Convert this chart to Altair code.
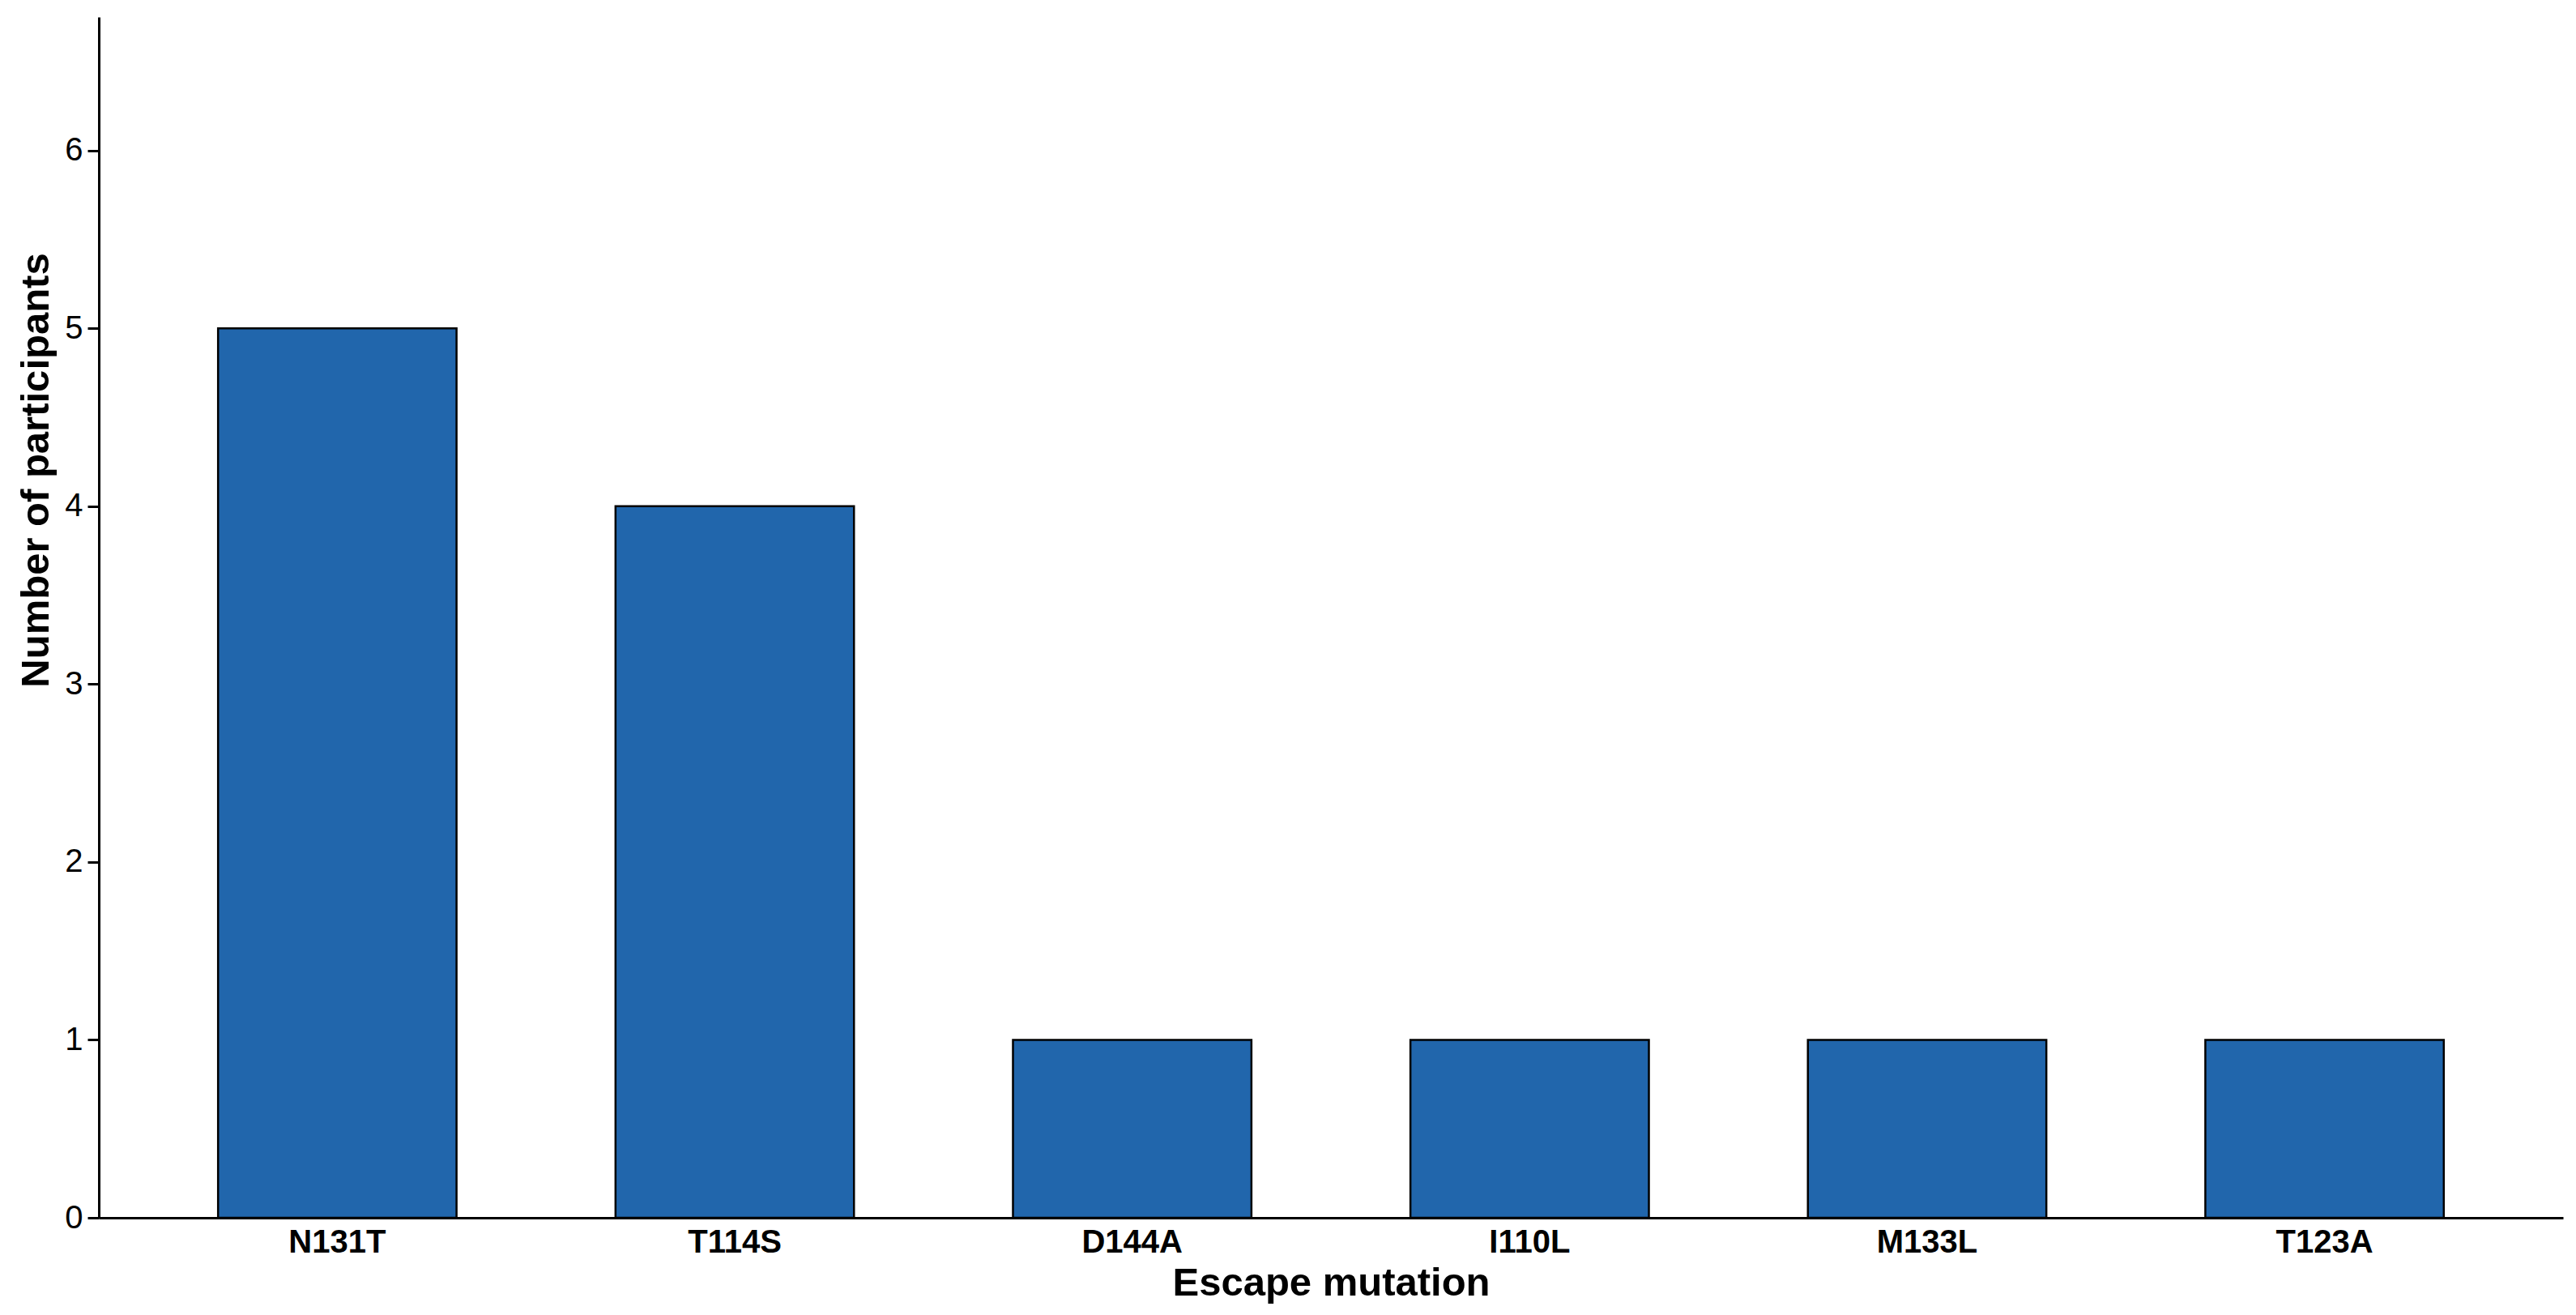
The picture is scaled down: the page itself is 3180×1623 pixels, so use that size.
import altair as alt
import pandas as pd

mutations = ["N131T", "T114S", "D144A", "I110L", "M133L", "T123A"]
participants = [5, 4, 1, 1, 1, 1]
y_ticks = [0, 1, 2, 3, 4, 5, 6]

df = pd.DataFrame({"mutation": mutations, "participants": participants})

chart = alt.Chart(df).mark_bar(
    color="#2166AC", stroke="black", strokeWidth=2.5
).encode(
    x=alt.X(
        "mutation:N", sort=mutations, title="Escape mutation",
        scale=alt.Scale(paddingInner=0.4, paddingOuter=0.3),
        axis=alt.Axis(
            labelAngle=0, ticks=False, labelFontWeight="bold", labelFontSize=40,
            labelPadding=10, labelColor="black", titleFontSize=49,
            titleFontWeight="bold", titlePadding=6, titleColor="black",
            domainWidth=3, domainColor="black", grid=False,
        ),
    ),
    y=alt.Y(
        "participants:Q", title="Number of participants",
        scale=alt.Scale(domain=[0, 6.75], nice=False, zero=True),
        axis=alt.Axis(
            values=y_ticks, format="d", tickSize=14, tickWidth=3, tickColor="black",
            labelFontSize=40, labelColor="black", labelPadding=6,
            titleFontSize=49, titleFontWeight="bold", titleColor="black",
            titlePadding=10, titleY=559, domainWidth=3, domainColor="black",
            grid=False,
        ),
    ),
).properties(
    width=3042, height=1482,
    autosize=alt.AutoSizeParams(type="none"),
    padding={"left": 114, "top": 13, "right": 8, "bottom": 112},
).configure(font="Liberation Sans").configure_view(stroke=None)

chart.save("out.html", embed_options={"renderer": "svg", "actions": False})
